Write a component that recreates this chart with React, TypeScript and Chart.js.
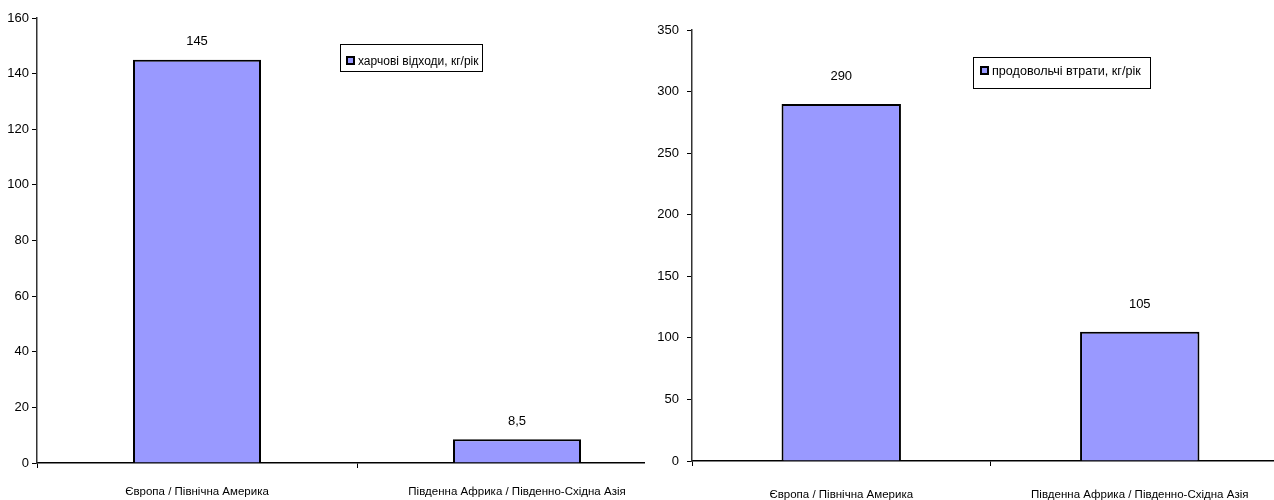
import React, { useEffect, useRef } from "react";
import { Chart, registerables } from "chart.js";

Chart.register(...registerables);

const categories = ["Європа / Північна Америка", "Південна Африка / Південно-Східна Азія"];
const wasteSeriesName = "харчові відходи, кг/рік";
const wasteValues = [145, 8.5];
const wasteValueLabels = ["145", "8,5"];
const lossSeriesName = "продовольчі втрати, кг/рік";
const lossValues = [290, 105];
const lossValueLabels = ["290", "105"];

const FONT = "'Liberation Sans Narrow', 'Liberation Sans', Arial, sans-serif";
const BAR_FILL = "#9999FF";

type Panel = {
  name: string;
  values: number[];
  valueLabels: string[];
  max: number;
  step: number;
  width: number;
  yAxisWidth: number;
  top: number;
  xAxisHeight: number;
  yTickPadding: number;
  xTickPadding: number;
  labelOffset: number;
  legendFont: number;
  legendBox: { x: number; y: number; w: number; h: number; mx: number; my: number; ms: number; tx: number; ty: number };
};

const valueLabelPlugin = {
  id: "valueLabels",
  afterDatasetsDraw(chart: any, _args: any, opts: any) {
    const ctx = chart.ctx;
    const meta = chart.getDatasetMeta(0);
    ctx.save();
    ctx.font = `13px ${FONT}`;
    ctx.fillStyle = "#000";
    ctx.textAlign = "center";
    ctx.textBaseline = "middle";
    meta.data.forEach((bar: any, i: number) => {
      ctx.fillText(opts.labels[i], bar.x, bar.y - opts.offset);
    });
    ctx.restore();
  },
};

const boxLegendPlugin = {
  id: "boxLegend",
  afterDraw(chart: any, _args: any, opts: any) {
    const ctx = chart.ctx;
    const b = opts.box;
    const ds = chart.data.datasets[0];
    ctx.save();
    ctx.fillStyle = "#fff";
    ctx.fillRect(b.x, b.y, b.w, b.h);
    ctx.strokeStyle = "#000";
    ctx.lineWidth = 1;
    ctx.strokeRect(b.x + 0.5, b.y + 0.5, b.w, b.h);
    ctx.fillStyle = ds.backgroundColor;
    ctx.fillRect(b.mx, b.my, b.ms, b.ms);
    ctx.lineWidth = 2;
    ctx.strokeRect(b.mx, b.my, b.ms, b.ms);
    ctx.fillStyle = "#000";
    ctx.font = `${opts.font}px ${FONT}`;
    ctx.textAlign = "left";
    ctx.textBaseline = "middle";
    ctx.fillText(ds.label, b.tx, b.ty);
    ctx.restore();
  },
};

function BarPanel({ p }: { p: Panel }) {
  const ref = useRef<HTMLCanvasElement>(null);
  useEffect(() => {
    if (!ref.current) return;
    const chart = new Chart(ref.current, {
      type: "bar",
      data: {
        labels: categories,
        datasets: [
          {
            label: p.name,
            data: p.values,
            backgroundColor: BAR_FILL,
            borderColor: "#000",
            borderWidth: 2,
            categoryPercentage: 1,
            barPercentage: 0.4,
          },
        ],
      },
      options: {
        responsive: false,
        animation: false,
        devicePixelRatio: 1,
        layout: { padding: { top: p.top, left: 0, right: 3, bottom: 0 } },
        plugins: {
          legend: { display: false },
          tooltip: { enabled: false },
          valueLabels: { labels: p.valueLabels, offset: p.labelOffset },
          boxLegend: { box: p.legendBox, font: p.legendFont },
        } as any,
        scales: {
          x: {
            grid: { drawOnChartArea: false, drawTicks: true, tickLength: 5, color: "#000", offset: true },
            border: { display: true, color: "#000", width: 1.5 },
            ticks: { color: "#000", font: { family: FONT, size: 11.5 }, padding: p.xTickPadding, maxRotation: 0, autoSkip: false },
            afterFit: (s: any) => { s.height = p.xAxisHeight; },
          },
          y: {
            min: 0,
            max: p.max,
            grid: { drawOnChartArea: false, drawTicks: true, tickLength: 5, color: "#000" },
            border: { display: true, color: "#333", width: 1.5 },
            ticks: { stepSize: p.step, color: "#000", font: { family: FONT, size: 13 }, padding: p.yTickPadding },
            afterFit: (s: any) => { s.width = p.yAxisWidth; },
          },
        },
      },
      plugins: [valueLabelPlugin, boxLegendPlugin],
    });
    return () => chart.destroy();
  }, [p]);
  return <canvas ref={ref} width={p.width} height={500} style={{ display: "block" }} />;
}

const leftPanel: Panel = {
  name: wasteSeriesName,
  values: wasteValues,
  valueLabels: wasteValueLabels,
  max: 160,
  step: 20,
  width: 680,
  yAxisWidth: 37,
  top: 18,
  xAxisHeight: 37,
  yTickPadding: 3,
  xTickPadding: 17,
  labelOffset: 18,
  legendFont: 12,
  legendBox: { x: 340, y: 44, w: 142, h: 27, mx: 347, my: 57, ms: 7, tx: 358, ty: 62 },
};

const rightPanel: Panel = {
  name: lossSeriesName,
  values: lossValues,
  valueLabels: lossValueLabels,
  max: 350,
  step: 50,
  width: 652,
  yAxisWidth: 52,
  top: 30,
  xAxisHeight: 39,
  yTickPadding: 8,
  xTickPadding: 22,
  labelOffset: 27,
  legendFont: 12.6,
  legendBox: { x: 333, y: 57, w: 177, h: 31, mx: 341, my: 67, ms: 7, tx: 352, ty: 72 },
};

export default function App() {
  return (
    <div style={{ position: "fixed", left: 0, top: 0, width: 1274, height: 500, overflow: "hidden", background: "#fff" }}>
      <div style={{ position: "absolute", left: 0, top: 0, width: 645, height: 500, overflow: "hidden" }}>
        <BarPanel p={leftPanel} />
      </div>
      <div style={{ position: "absolute", left: 640, top: 0, width: 634, height: 500, overflow: "hidden" }}>
        <BarPanel p={rightPanel} />
      </div>
    </div>
  );
}
